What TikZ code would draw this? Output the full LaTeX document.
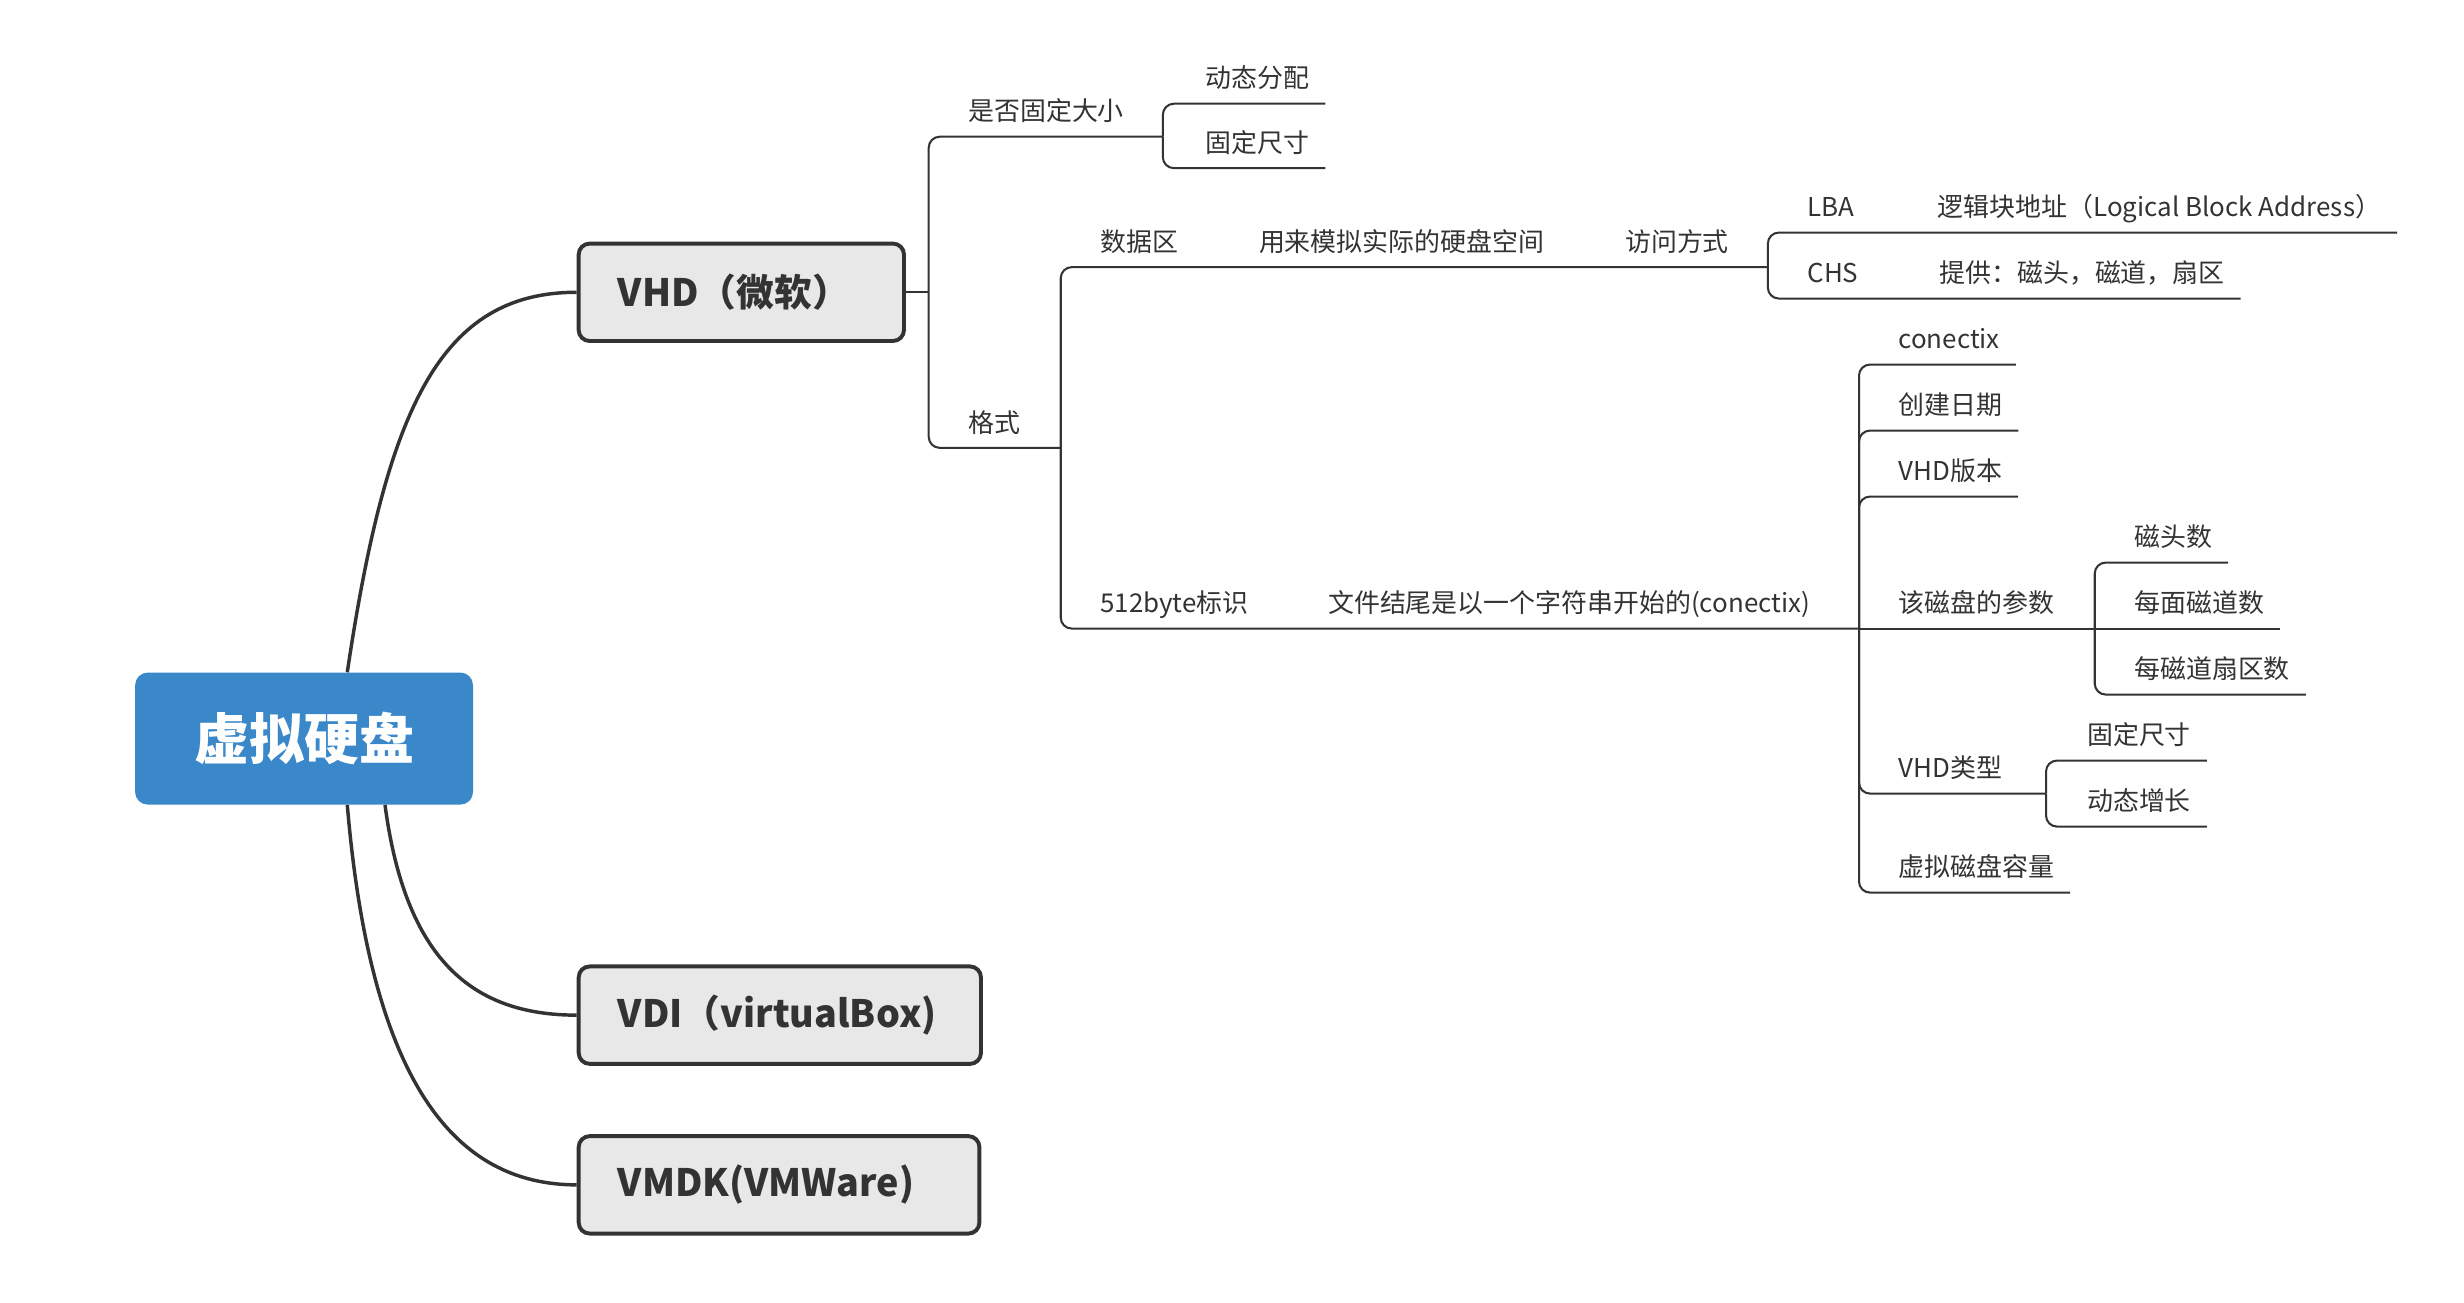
\documentclass[tikz,border=0pt]{standalone}
\usepackage{fontspec}
\setmainfont{Noto Sans CJK SC}
\definecolor{rootblue}{HTML}{3A87C9}
\definecolor{ink}{HTML}{333333}
\definecolor{boxgray}{HTML}{E8E8E8}
\tikzset{
  topic/.style={anchor=base west,inner sep=0pt,text=ink,font=\fontsize{16.5}{20}\selectfont},
  main/.style={draw=ink,line width=2.5pt,fill=boxgray,rounded corners=7pt,anchor=west,minimum height=62pt,inner xsep=25pt,align=left,text=ink,font=\fontsize{24}{28}\selectfont\bfseries},
  branch/.style={draw=ink,line width=1.3pt,rounded corners=7pt},
  trunk/.style={draw=ink,line width=2.2pt}
}
\begin{document}
\begin{tikzpicture}[x=1pt,y=-1pt]
\useasboundingbox (0,0) rectangle (1568,829);

\node(R)[fill=rootblue,rounded corners=8pt,minimum width=215pt,minimum height=84pt,text=white,font=\fontsize{35}{40}\selectfont\bfseries] at (193.5,470) {虚拟硬盘};
\node(VHD)[main,text width=157pt] at (367,186) {VHD（微软）};
\node(VDI)[main,text width=206pt] at (367,646) {VDI（virtualBox)};
\node(VMDK)[main,text width=205pt] at (367,754) {VMDK(VMWare)};

\draw[trunk] ([xshift=27.5pt]R.north) .. controls (246,260) and (280,186) .. (VHD.west);
\draw[trunk] ([xshift=51.5pt]R.south) .. controls (258,610) and (300,646) .. (VDI.west);
\draw[trunk] ([xshift=27.5pt]R.south) .. controls (236,690) and (290,754) .. (VMDK.west);

% VHD
\node(size)[topic] at (616,77) {是否固定大小};
\node(dyn)[topic] at (767,56) {动态分配};
\node(fix)[topic] at (767,97) {固定尺寸};
\node(fmt)[topic] at (616,275) {格式};
\node(data)[topic] at (700,160) {数据区};
\node(emul)[topic] at (801,160) {用来模拟实际的硬盘空间};
\node(acc)[topic] at (1034,160) {访问方式};
\node(lba)[topic] at (1150,138) {LBA};
\node(lbad)[topic] at (1233,138) {逻辑块地址（Logical Block Address）};
\node(chs)[topic] at (1150,180) {CHS};
\node(chsd)[topic] at (1234,180) {提供：磁头，磁道，扇区};
\node(tag)[topic] at (700,390) {512byte标识};
\node(tagd)[topic] at (845,390) {文件结尾是以一个字符串开始的(conectix)};
\node(con)[topic] at (1208,222) {conectix};
\node(date)[topic] at (1208,264) {创建日期};
\node(ver)[topic] at (1208,306) {VHD版本};
\node(par)[topic] at (1208,390) {该磁盘的参数};
\node(heads)[topic] at (1358,348) {磁头数};
\node(tracks)[topic] at (1358,390) {每面磁道数};
\node(sects)[topic] at (1358,432) {每磁道扇区数};
\node(type)[topic] at (1208,495) {VHD类型};
\node(tfix)[topic] at (1328,474) {固定尺寸};
\node(tdyn)[topic] at (1328,516) {动态增长};
\node(cap)[topic] at (1208,558) {虚拟磁盘容量};

\coordinate(bvhd) at (591,186);
\coordinate(bsize) at (740,87);
\coordinate(bfmt) at (675,285);
\coordinate(bacc) at (1125,170);
\coordinate(btag) at (1183,400);
\coordinate(bpar) at (1333,400);
\coordinate(btype) at (1302,505);

\draw[branch] (VHD.east) -- (bvhd);
\draw[branch] (bvhd) |- (bsize);
\draw[branch] (bvhd) |- (bfmt);
\draw[branch] (bsize) |- ([xshift=10pt,yshift=-10pt]dyn.base east);
\draw[branch] (bsize) |- ([xshift=10pt,yshift=-10pt]fix.base east);
\draw[branch] (bfmt) |- (bacc);
\draw[branch] (bfmt) |- (btag);
\draw[branch] (bacc) |- ([xshift=10pt,yshift=-10pt]lbad.base east);
\draw[branch] (bacc) |- ([xshift=10pt,yshift=-10pt]chsd.base east);

% 512byte
\draw[branch] (btag) |- ([xshift=10pt,yshift=-10pt]con.base east);
\draw[branch] (btag) |- ([xshift=10pt,yshift=-10pt]date.base east);
\draw[branch] (btag) |- ([xshift=10pt,yshift=-10pt]ver.base east);
\draw[branch] (btag) -- (bpar);
\draw[branch] (btag) |- (btype);
\draw[branch] (btag) |- ([xshift=10pt,yshift=-10pt]cap.base east);
\draw[branch] (bpar) |- ([xshift=10pt,yshift=-10pt]heads.base east);
\draw[branch] (bpar) -- ([xshift=10pt,yshift=-10pt]tracks.base east);
\draw[branch] (bpar) |- ([xshift=10pt,yshift=-10pt]sects.base east);
\draw[branch] (btype) |- ([xshift=10pt,yshift=-10pt]tfix.base east);
\draw[branch] (btype) |- ([xshift=10pt,yshift=-10pt]tdyn.base east);

\end{tikzpicture}
\end{document}
